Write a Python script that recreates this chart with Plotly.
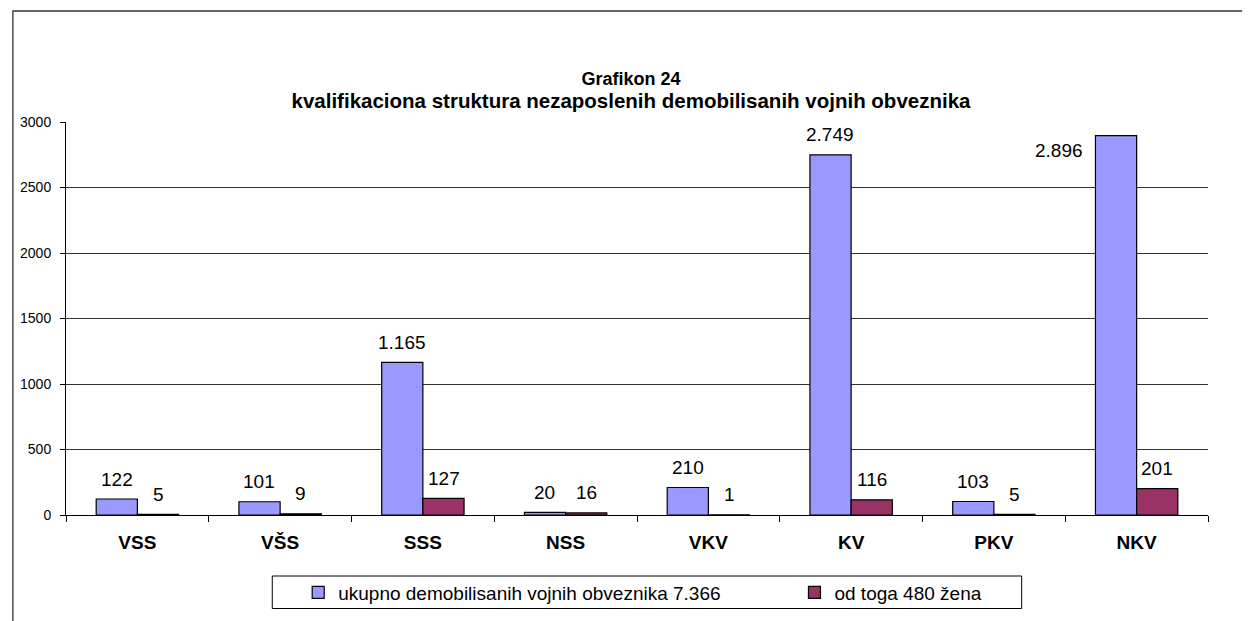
import plotly.graph_objects as go

categories = ["VSS", "VŠS", "SSS", "NSS", "VKV", "KV", "PKV", "NKV"]
ukupno = [122, 101, 1165, 20, 210, 2749, 103, 2896]
zene = [5, 9, 127, 16, 1, 116, 5, 201]
series_names = ["ukupno demobilisanih vojnih obveznika 7.366", "od toga 480 žena"]
title_lines = ["Grafikon 24", "kvalifikaciona struktura nezaposlenih demobilisanih vojnih obveznika"]
y_ticks = [0, 500, 1000, 1500, 2000, 2500, 3000]

FONT = "Arial, Liberation Sans, sans-serif"
W, H = 1250, 621
OFF = 8  # page body margin: page pixel = figure pixel + OFF
ML, MR, MT, MB = 54, 50, 114, 114
PW, PH = W - ML - MR, H - MT - MB
BARGAP = 0.423
offset = (PW / len(categories)) * (1 - BARGAP) / 4


def fmt(v):
    return f"{v:,}".replace(",", ".")


def px_x(p):  # page pixel -> paper x
    return (p - OFF - ML) / PW


def px_y(p):  # page pixel -> paper y
    return (H - MB - (p - OFF)) / PH


fig = go.Figure()
fig.add_trace(go.Bar(x=categories, y=ukupno, name=series_names[0], legend="legend",
                     marker=dict(color="#9999FF", line=dict(color="#000000", width=1.2))))
fig.add_trace(go.Bar(x=categories, y=zene, name=series_names[1], legend="legend2",
                     marker=dict(color="#993366", line=dict(color="#000000", width=1.2))))

annotations = []
for i, c in enumerate(categories):
    for vals, sgn in ((ukupno, -1), (zene, 1)):
        v = vals[i]
        if c == "NKV" and sgn == -1:
            annotations.append(dict(x=c, y=v, text=fmt(v), showarrow=False,
                                    xshift=sgn * offset - 57, yshift=-14.5,
                                    yanchor="middle", xanchor="center",
                                    font=dict(family=FONT, size=19, color="#000")))
        else:
            annotations.append(dict(x=c, y=v, text=fmt(v), showarrow=False,
                                    xshift=sgn * offset, yshift=20,
                                    yanchor="middle", xanchor="center",
                                    font=dict(family=FONT, size=19, color="#000")))

shapes = [
    # outer chart frame
    dict(type="rect", xref="paper", yref="paper",
         x0=px_x(8.7), x1=px_x(W + 40), y0=px_y(H + 40), y1=px_y(11),
         line=dict(color="#333333", width=1.3), layer="below"),
    # legend box
    dict(type="rect", xref="paper", yref="paper",
         x0=px_x(269), x1=px_x(1021), y0=px_y(608.5), y1=px_y(576),
         line=dict(color="#000000", width=1), layer="below"),
]

legend_common = dict(orientation="h", xanchor="left", yanchor="middle",
                     y=px_y(592.5),
                     font=dict(family=FONT, size=19, color="#000"),
                     bgcolor="rgba(0,0,0,0)", borderwidth=0)

fig.update_layout(
    width=W, height=H,
    margin=dict(l=ML, r=MR, t=MT, b=MB),
    paper_bgcolor="white", plot_bgcolor="white",
    barmode="group", bargap=BARGAP, bargroupgap=0,
    font=dict(family=FONT, color="#000"),
    title=dict(text=title_lines[0] + "<br><span style='font-size:20.5px'>" + title_lines[1] + "</span>",
               x=(631 - OFF) / W, xanchor="center", y=1 - (85 - OFF) / H, yanchor="top",
               font=dict(family=FONT, size=18, color="#000", weight="bold")),
    xaxis=dict(tickson="boundaries", ticks="outside", ticklen=6, tickcolor="#000",
               showline=True, linecolor="#000", linewidth=1,
               tickfont=dict(family=FONT, size=19, color="#000", weight="bold"),
               ticklabelstandoff=10, showgrid=False),
    yaxis=dict(range=[0, 3000], tickvals=y_ticks, ticks="outside", ticklen=5,
               tickcolor="#000", showline=True, linecolor="#000", linewidth=1,
               showgrid=True, gridcolor="#333333", gridwidth=1,
               tickfont=dict(family=FONT, size=14, color="#000"),
               ticklabelstandoff=6, zeroline=False),
    legend=dict(x=px_x(295), **legend_common),
    legend2=dict(x=px_x(793), **legend_common),
    annotations=annotations,
    shapes=shapes,
    showlegend=True,
)

fig.write_html("out.html")
